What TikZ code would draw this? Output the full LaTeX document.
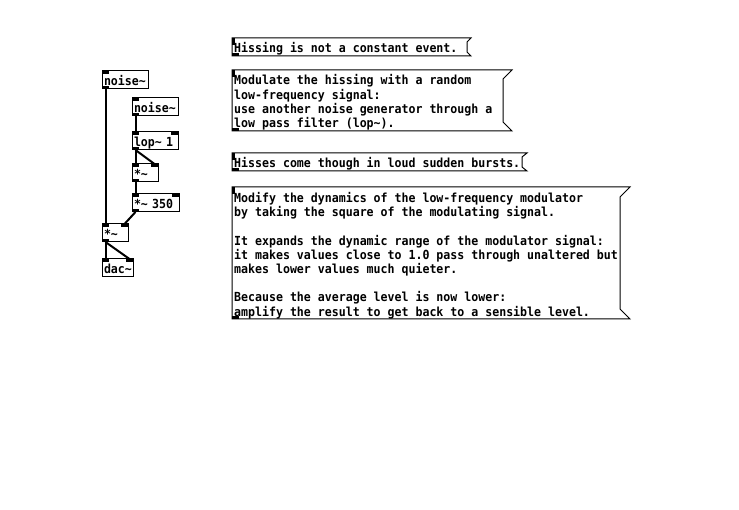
\documentclass[tikz,border=0pt]{standalone}
\usepackage{fontspec}
\newfontfamily\pdfont{DejaVu Sans Mono}[FakeStretch=0.927]
\newcommand\pdtl{\textasciitilde}
\tikzset{
  pdf/.style={font={\pdfont\bfseries\fontsize{12.5pt}{14.2pt}\selectfont}},
  obj/.style={pdf, draw, line width=1pt, anchor=north west, outer sep=0pt,
    inner xsep=2pt, inner ysep=0pt, minimum height=18pt, align=left,
    text height=11.5pt, text depth=0.5pt},
  port/.style={fill=black, draw=none, inner sep=0pt, outer sep=0pt,
    minimum width=7pt, minimum height=3pt},
  sig/.style={line width=2pt},
  cframe/.style={draw, line width=1pt},
  ctext/.style={pdf, anchor=base west, inner sep=0pt}
}
\newcommand\pdbox[5]{%
  \node[obj, text width=#4pt] (#1) at (#2,#3) {#5};
  \node[port, anchor=north west] (#1-i1) at (#1.north west) {};
}
\newcommand\pdout[1]{\node[port, anchor=south west] (#1-o) at (#1.south west) {};}
\newcommand\pdrin[1]{\node[port, anchor=north east] (#1-i2) at (#1.north east) {};}
\begin{document}
\begin{tikzpicture}[x=1pt, y=-1pt]
\useasboundingbox[fill=white] (0,0) rectangle (739,510);

% objects
\pdbox{n1}{102}{71}{42}{noise\pdtl}\pdout{n1}
\pdbox{n2}{132}{98}{42}{noise\pdtl}\pdout{n2}
\pdbox{lop}{132}{132}{42}{lop\pdtl{} 1}\pdout{lop}\pdrin{lop}
\pdbox{sq}{132}{164}{22}{*\pdtl}\pdout{sq}\pdrin{sq}
\pdbox{amp}{132}{194}{43}{*\pdtl{} 350}\pdout{amp}\pdrin{amp}
\pdbox{mul}{102}{224}{22}{*\pdtl}\pdout{mul}\pdrin{mul}
\pdbox{dac}{102}{259}{27}{dac\pdtl}\pdrin{dac}

% connections
\draw[sig] (n1-o.south) -- (mul-i1.north);
\draw[sig] (n2-o.south) -- (lop-i1.north);
\draw[sig] (lop-o.south) -- (sq-i1.north);
\draw[sig] (lop-o.south) -- (sq-i2.north);
\draw[sig] (sq-o.south) -- (amp-i1.north);
\draw[sig] (amp-o.south) -- (mul-i2.north);
\draw[sig] (mul-o.south) -- (dac-i1.north);
\draw[sig] (mul-o.south) -- (dac-i2.north);

% comment 1
\draw[cframe] (232,38) -- (471,38) -- (467,42) -- (467,52) -- (471,56) -- (232,56) -- cycle;
\fill (231.5,38) rectangle (234.5,45);
\fill (231.5,53) rectangle (239,56.5);
\node[ctext] (c1) at (234,53) {Hissing is not a constant event.};

% comment 2
\draw[cframe] (232,70) -- (512,70) -- (503,79) -- (503,122) -- (512,131) -- (232,131) -- cycle;
\fill (231.5,70) rectangle (234.5,77);
\fill (231.5,128) rectangle (239,131.5);
\node[ctext] (c2) at (234,85) {\vtop{\baselineskip=14.3pt
  \hbox{Modulate the hissing with a random}
  \hbox{low-frequency signal:}
  \hbox{use another noise generator through a}
  \hbox{low pass filter (lop\pdtl).}}};

% comment 3
\draw[cframe] (232,153) -- (527,153) -- (522,157) -- (522,167) -- (527,171) -- (232,171) -- cycle;
\fill (231.5,153) rectangle (234.5,160);
\fill (231.5,168) rectangle (239,171.5);
\node[ctext] (c3) at (234,168) {Hisses come though in loud sudden bursts.};

% comment 4
\draw[cframe] (232,187) -- (630,187) -- (620,197) -- (620,309) -- (630,319) -- (232,319) -- cycle;
\fill (231.5,187) rectangle (234.5,194);
\fill (231.5,316) rectangle (239,319.5);
\node[ctext] (c4) at (234,202.5) {\vtop{\baselineskip=14.2pt
  \hbox{Modify the dynamics of the low-frequency modulator}
  \hbox{by taking the square of the modulating signal.}
  \hbox{}
  \hbox{It expands the dynamic range of the modulator signal:}
  \hbox{it makes values close to 1.0 pass through unaltered but}
  \hbox{makes lower values much quieter.}
  \hbox{}
  \hbox{Because the average level is now lower:}
  \hbox{amplify the result to get back to a sensible level.}}};
\end{tikzpicture}
\end{document}
